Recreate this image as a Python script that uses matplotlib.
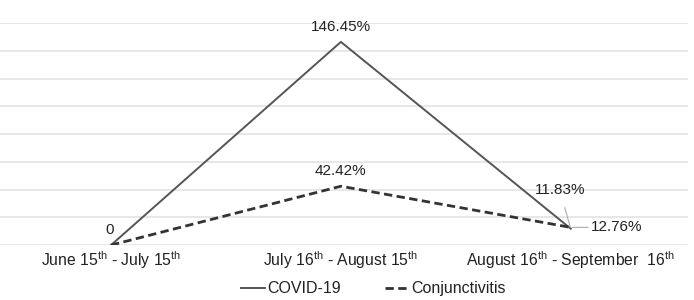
import matplotlib.pyplot as plt

plt.rcParams['font.family'] = ['Liberation Sans', 'DejaVu Sans']
plt.rcParams['mathtext.fontset'] = 'custom'
plt.rcParams['mathtext.rm'] = 'Liberation Sans'
plt.rcParams['mathtext.it'] = 'Liberation Sans'

periods = ['June 15$^{th}$ - July 15$^{th}$',
           'July 16$^{th}$ - August 15$^{th}$',
           'August 16$^{th}$ - September  16$^{th}$']
covid = [0, 146.45, 11.83]
conj = [0, 42.42, 12.76]
covid_labels = ['0', '146.45%', '11.83%']
conj_labels = ['', '42.42%', '12.76%']

fig = plt.figure(figsize=(6.94, 3.0), dpi=100)
ax = fig.add_axes([0.0, 0.183, 0.991, 0.74])

x = list(range(len(periods)))
line_color = '#555555'
ax.plot(x, covid, color=line_color, lw=1.4, label='COVID-19')
ax.plot(x, conj, color='#333333', lw=2.0, ls=(0, (3, 1.6)), label='Conjunctivitis')

ax.set_xlim(-0.483, 2.509)
ax.set_ylim(0, 160)
ax.set_yticks(range(0, 161, 20))
ax.yaxis.grid(True, color='#e3e3e3', lw=1.2)
ax.set_axisbelow(True)
ax.tick_params(axis='y', left=False, labelleft=False)
ax.tick_params(axis='x', length=0, pad=3, labelsize=11.3, colors='#222222')
ax.set_xticks(x)
ax.set_xticklabels(periods)
for s in ax.spines.values():
    s.set_visible(False)

txt = dict(fontsize=11, color='#222222', ha='center', va='center')
ax.annotate(covid_labels[0], (x[0], covid[0]), xytext=(-1, 11), textcoords='offset points', **txt)
ax.annotate(covid_labels[1], (x[1], covid[1]), xytext=(0, 11), textcoords='offset points', **txt)
ax.annotate(conj_labels[1], (x[1], conj[1]), xytext=(0, 11), textcoords='offset points', **txt)
ax.annotate(covid_labels[2], (x[2], covid[2]), xytext=(-8, 28), textcoords='offset points',
            arrowprops=dict(arrowstyle='-', color='#aaaaaa', lw=0.8, shrinkA=6, shrinkB=1), **txt)
ax.annotate(conj_labels[2], (x[2], conj[2]), xytext=(33, 0), textcoords='offset points',
            arrowprops=dict(arrowstyle='-', color='#aaaaaa', lw=0.8, shrinkA=21, shrinkB=1), **txt)

fig.legend(loc='lower center', bbox_to_anchor=(0.538, -0.035), ncol=2, frameon=False,
           fontsize=11.5, handlelength=1.5, handletextpad=0.15, columnspacing=2.8,
           labelcolor='#222222')

fig.savefig('out.png', dpi=100)
